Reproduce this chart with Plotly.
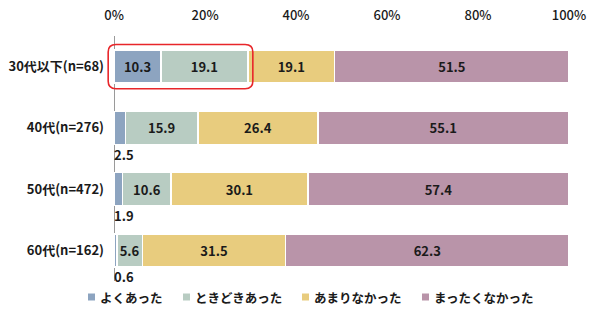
import plotly.graph_objects as go

categories = ["30代以下(n=68)", "40代(n=276)", "50代(n=472)", "60代(n=162)"]
series_names = ["よくあった", "ときどきあった", "あまりなかった", "まったくなかった"]
often = [10.3, 2.5, 1.9, 0.6]
sometimes = [19.1, 15.9, 10.6, 5.6]
rarely = [19.1, 26.4, 30.1, 31.5]
never = [51.5, 55.1, 57.4, 62.3]
tick_values = [0, 20, 40, 60, 80, 100]
tick_labels = ["0%", "20%", "40%", "60%", "80%", "100%"]

colors = ["#8DA4C0", "#B8CCC2", "#E8CC7E", "#B994A9"]
series = [often, sometimes, rarely, never]
FONT = "Noto Sans CJK JP"
SMALL = 5

W, H = 600, 329
ML, MR, MT, MB = 105, 31, 36, 48
PW = W - ML - MR
PH = H - MT - MB

ypos = list(range(len(categories)))

fig = go.Figure()
for name, vals, col in zip(series_names, series, colors):
    fig.add_trace(go.Bar(
        y=ypos, x=vals, orientation="h", name=name,
        marker=dict(color=col, line=dict(color="white", width=1.5)),
        text=[f"{v:.1f}" if v >= SMALL else "" for v in vals],
        textposition="inside", insidetextanchor="middle", textangle=0,
        textfont=dict(family=FONT, size=13, color="#1a1a1a", weight="bold"),
        constraintext="none",
        showlegend=False, hoverinfo="skip",
    ))

# small values shown below the bars
for s in series:
    for i, v in enumerate(s):
        if v < SMALL:
            fig.add_annotation(
                x=0, y=i + 0.43, xref="x", yref="y", text=f"{v:.1f}",
                showarrow=False, xanchor="left", yanchor="middle", xshift=-2,
                font=dict(family=FONT, size=13, color="#1a1a1a", weight="bold"),
            )

# red rounded highlight around first row's first two segments
x0 = -1.3
x1 = often[0] + sometimes[0] + 1.1
y0, y1 = -0.36, 0.36
rx, ry = 1.7, 0.12
path = (f"M {x0+rx},{y0} L {x1-rx},{y0} Q {x1},{y0} {x1},{y0+ry} "
        f"L {x1},{y1-ry} Q {x1},{y1} {x1-rx},{y1} "
        f"L {x0+rx},{y1} Q {x0},{y1} {x0},{y1-ry} "
        f"L {x0},{y0+ry} Q {x0},{y0} {x0+rx},{y0} Z")
fig.add_shape(type="path", path=path, xref="x", yref="y",
              line=dict(color="#E8262A", width=1.6))

# legend (squares + labels) below the plot
def px_x(p):
    return (p - ML) / PW

def px_y(p):
    return 1 - (p - MT) / PH

legend_starts = [88, 183, 302, 422]
leg_y = 297
for name, col, sx in zip(series_names, colors, legend_starts):
    fig.add_shape(type="rect", xref="paper", yref="paper",
                  x0=px_x(sx), x1=px_x(sx + 7), y0=px_y(leg_y + 3.5), y1=px_y(leg_y - 3.5),
                  fillcolor=col, line=dict(width=0))
    fig.add_annotation(x=px_x(sx + 10), y=px_y(leg_y), xref="paper", yref="paper",
                       text=name, showarrow=False, xanchor="left", yanchor="middle",
                       font=dict(family=FONT, size=12.5, color="#1a1a1a", weight="bold"))

fig.update_layout(
    width=W, height=H,
    margin=dict(l=ML, r=MR, t=MT, b=MB, autoexpand=False),
    barmode="stack", bargap=0.46, showlegend=False,
    plot_bgcolor="white", paper_bgcolor="white",
    font=dict(family=FONT, size=13, color="#1a1a1a"),
    xaxis=dict(
        range=[-2, 100], side="top", tickvals=tick_values, ticktext=tick_labels,
        showgrid=False, zeroline=True, zerolinecolor="#9a9a9a", zerolinewidth=1,
        showline=False, ticks="", ticklabelstandoff=12,
        tickfont=dict(size=13, color="#1a1a1a", weight=500),
        fixedrange=True,
    ),
    yaxis=dict(
        range=[3.5, -0.5], tickvals=ypos, ticktext=categories,
        showgrid=False, zeroline=False, showline=False, ticks="",
        tickfont=dict(size=13, color="#1a1a1a", weight="bold"),
        fixedrange=True,
    ),
)

fig.write_html("out.html")
